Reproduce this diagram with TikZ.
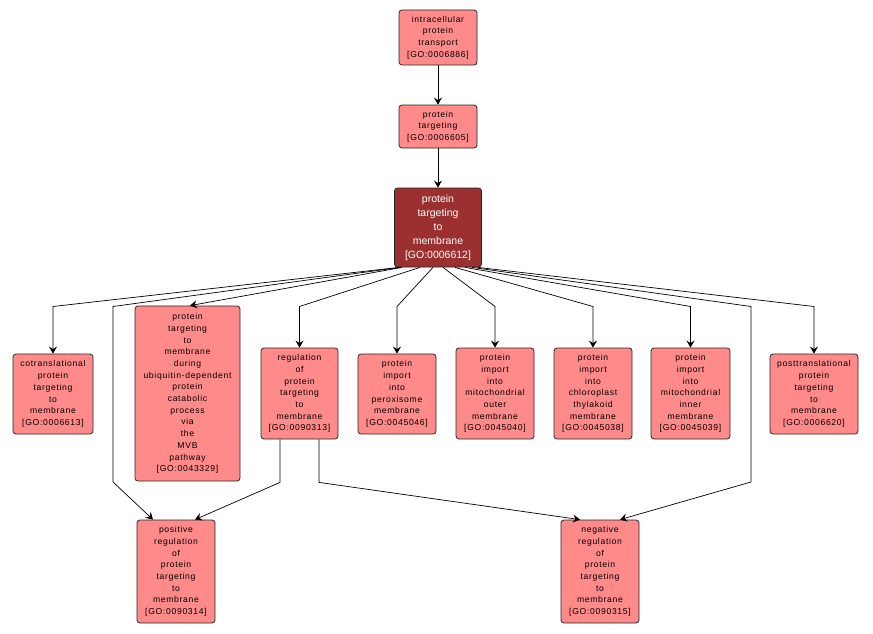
\documentclass[tikz,border=0pt]{standalone}
\usepackage{fontspec}
\usetikzlibrary{positioning,arrows.meta}
\newfontfamily\gofont[LetterSpace=8]{Liberation Sans}
\newfontfamily\gomainfont{Liberation Sans}
\definecolor{gofill}{RGB}{255,138,138}
\definecolor{gomain}{RGB}{155,48,48}

\begin{document}
\begin{tikzpicture}
[x=1pt,y=1pt,
 term/.style={draw=black!85,line width=0.8pt,rounded corners=3pt,fill=gofill,align=center,
              inner sep=1pt,minimum width=78pt,font=\gofont\fontsize{8.6}{11.7}\selectfont},
 mainterm/.style={term,fill=gomain,text=white,minimum width=87pt,minimum height=79pt,
              font=\gomainfont\fontsize{10.5}{14}\selectfont},
 h3/.style={minimum height=43pt},
 h4/.style={minimum height=55pt},
 h6/.style={minimum height=80pt},
 h7/.style={minimum height=91pt},
 h8/.style={minimum height=103pt},
 h14/.style={minimum height=175pt},
 link/.style={-{Stealth[length=7pt,width=8pt,inset=2.5pt]},line width=0.7pt}]

\useasboundingbox (0,0) rectangle (873,-634);

% chain
\node[term,h4] (G6886) at (438,-37.5) {intracellular\\protein\\transport\\{[GO:0006886]}};
\node[term,h3] (G6605) [on grid,below=89pt of G6886] {protein\\targeting\\{[GO:0006605]}};
\node[mainterm] (G6612) [on grid,below=101pt of G6605] {protein\\targeting\\to\\membrane\\{[GO:0006612]}};
\path[link] (G6886) edge (G6605);
\path[link] (G6605) edge (G6612);

% children
\node[term,h6,minimum width=80pt]  (G6613)  [on grid,below left=166.5pt and 385pt of G6612]   {cotranslational\\protein\\targeting\\to\\membrane\\{[GO:0006613]}};
\node[term,h14,minimum width=105pt] (G43329) [on grid,below left=166pt and 250.5pt of G6612]  {protein\\targeting\\to\\membrane\\during\\ubiquitin-dependent\\protein\\catabolic\\process\\via\\the\\MVB\\pathway\\{[GO:0043329]}};
\node[term,h7,minimum width=77pt]  (G90313) [on grid,below left=166pt and 138.5pt of G6612]  {regulation\\of\\protein\\targeting\\to\\membrane\\{[GO:0090313]}};
\node[term,h6]                     (G45046) [on grid,below left=166.5pt and 41pt of G6612]    {protein\\import\\into\\peroxisome\\membrane\\{[GO:0045046]}};
\node[term,h7]                     (G45040) [on grid,below right=166pt and 57pt of G6612]    {protein\\import\\into\\mitochondrial\\outer\\membrane\\{[GO:0045040]}};
\node[term,h7]                     (G45038) [on grid,below right=166pt and 155pt of G6612]   {protein\\import\\into\\chloroplast\\thylakoid\\membrane\\{[GO:0045038]}};
\node[term,h7,minimum width=79pt]  (G45039) [on grid,below right=166pt and 252.5pt of G6612] {protein\\import\\into\\mitochondrial\\inner\\membrane\\{[GO:0045039]}};
\node[term,h6,minimum width=88pt]  (G6620)  [on grid,below right=166.5pt and 376pt of G6612] {posttranslational\\protein\\targeting\\to\\membrane\\{[GO:0006620]}};

% grandchildren
\node[term,h8] (G90314) [on grid,below left=344pt and 262pt of G6612]  {positive\\regulation\\of\\protein\\targeting\\to\\membrane\\{[GO:0090314]}};
\node[term,h8] (G90315) [on grid,below right=344pt and 162pt of G6612] {negative\\regulation\\of\\protein\\targeting\\to\\membrane\\{[GO:0090315]}};

% bends
\coordinate (fan)   at (0,-306.5);
\coordinate (laneL) at (113,-482);
\coordinate (laneR) at (751,-482);

\draw[link] ([xshift=-39pt]G6612.south) -- (fan -| G6613) -- (G6613);
\draw[link] ([xshift=-38pt]G6612.south) -- (fan -| laneL) -- (laneL) -- ([xshift=-23pt]G90314.north);
\draw[link] ([xshift=-36pt]G6612.south) -- ([xshift=2.5pt]G43329.north);
\draw[link] ([xshift=-18pt]G6612.south) -- (fan -| G90313) -- (G90313);
\draw[link] ([xshift=-5pt]G6612.south)  -- (fan -| G45046) -- (G45046);
\draw[link] ([xshift=5pt]G6612.south)   -- (fan -| G45040) -- (G45040);
\draw[link] ([xshift=17pt]G6612.south)  -- (fan -| G45038) -- (G45038);
\draw[link] ([xshift=27pt]G6612.south)  -- (fan -| G45039) -- (G45039);
\draw[link] ([xshift=34pt]G6612.south)  -- (fan -| laneR) -- (laneR) -- ([xshift=20pt]G90315.north);
\draw[link] ([xshift=40pt]G6612.south)  -- (fan -| G6620) -- (G6620);

\draw[link] ([xshift=-19.5pt]G90313.south) -- ++(0,-43) -- ([xshift=19pt]G90314.north);
\draw[link] ([xshift=19.5pt]G90313.south)  -- ++(0,-43) -- ([xshift=-20pt]G90315.north);

\end{tikzpicture}
\end{document}
